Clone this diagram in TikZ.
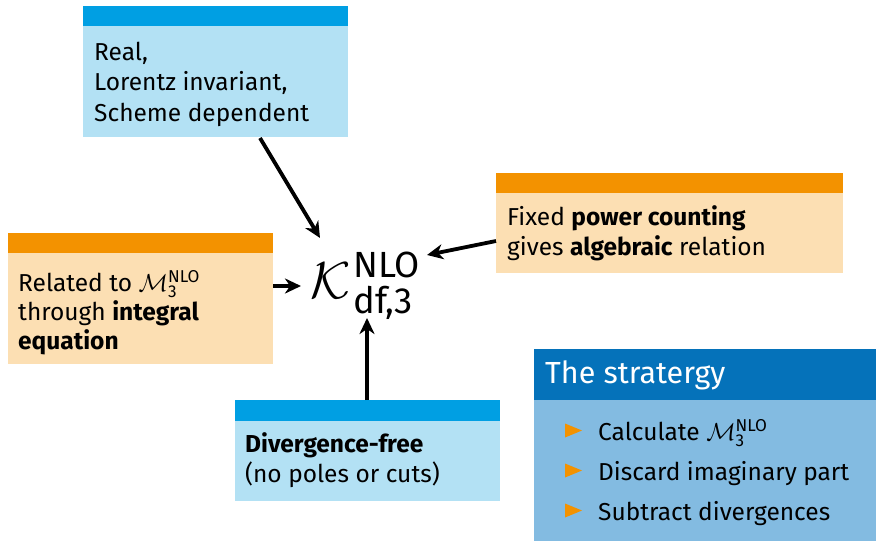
\RequirePackage{fix-cm}
\documentclass[tikz,border=0pt]{standalone}
\usepackage{amsmath}
\usepackage{fontspec}
\setmainfont{Fira Sans}
\usetikzlibrary{arrows.meta}
\definecolor{hdblue}{HTML}{009FE3}
\definecolor{bdblue}{HTML}{B3E1F4}
\definecolor{hdorange}{HTML}{F39200}
\definecolor{bdorange}{HTML}{FCDFB3}
\definecolor{hdstrat}{HTML}{0572BA}
\definecolor{bdstrat}{HTML}{83BBE1}
\newcommand{\scrfont}{\fontsize{36.4}{40}\selectfont}
\tikzset{
  boxtext/.style={anchor=base west, inner sep=0pt, align=left, font=\fontsize{24.5}{30}\selectfont},
  arr/.style={-{Stealth[length=16pt,width=15pt,inset=5pt]}, line width=3.8pt, black},
}
\begin{document}
\begin{tikzpicture}[x=1pt,y=-1pt]
\useasboundingbox (0,0) rectangle (876,541);
% Box 1
\fill[hdblue] (83,6) rectangle (348,26);
\fill[bdblue] (83,26) rectangle (348,137);
\node[boxtext, font=\fontsize{24.5}{30.5}\selectfont] (t1) at (94,121) {Real,\\Lorentz invariant,\\Scheme dependent};
% Box 2
\fill[hdorange] (8,233) rectangle (273,253);
\fill[bdorange] (8,253) rectangle (273,364);
\node[boxtext, font=\fontsize{24.5}{29}\selectfont] (t2) at (18,349) {Related to $\mathcal{M}_{\text{3}}^{\text{NLO}}$\\through \textbf{integral}\\\textbf{equation}};
% Box 3
\fill[hdorange] (496,173) rectangle (843,193);
\fill[bdorange] (496,193) rectangle (843,273);
\node[boxtext] (t3) at (507,255) {Fixed \textbf{power counting}\\gives \textbf{algebraic} relation};
% Box 5
\fill[hdblue] (235,400) rectangle (500,421);
\fill[bdblue] (235,421) rectangle (500,501);
\node[boxtext, font=\fontsize{24.5}{29.5}\selectfont] (t5) at (245,482) {\textbf{Divergence-free}\\(no poles or cuts)};
% Strategy box
\fill[hdstrat] (534,349) rectangle (876,400);
\fill[bdstrat] (534,400) rectangle (876,541);
\node[anchor=base west, inner sep=0pt, text=white, font=\fontsize{30.5}{34}\selectfont] (title) at (545,383) {The stratergy};
\foreach \yy/\txt [count=\i] in {440/{Calculate $\mathcal{M}_{\text{3}}^{\text{NLO}}$}, 480/{Discard imaginary part}, 520/{Subtract divergences}} {
  \fill[hdorange] (565,\yy-16.5) -- (582,\yy-9.5) -- (565,\yy-2.5) -- cycle;
  \node[anchor=base west, inner sep=0pt, font=\fontsize{24.5}{30}\selectfont] (s\i) at (598,\yy) {\txt};
}
% Central node
\node[inner sep=0pt, anchor=base west, font=\fontsize{52}{60}\selectfont] (K) at (310,298)
  {$\mathcal{K}$\hspace{3pt}\rlap{\raisebox{21pt}{\scrfont NLO}}\raisebox{-15pt}{\scrfont df,3}};
% connector endpoints
\coordinate (a1s) at (260,138);
\coordinate (a1e) at (320,238);
\coordinate (a2s) at (273,286);
\coordinate (a2e) at (301,286);
\coordinate (a3s) at (496,241);
\coordinate (a3e) at (427,255);
\coordinate (a5s) at (367,400);
\coordinate (a5e) at (367,318);
\draw[arr] (a1s) -- (a1e);
\draw[arr] (a2s) -- (a2e);
\draw[arr] (a3s) -- (a3e);
\draw[arr] (a5s) -- (a5e);
\end{tikzpicture}
\end{document}
